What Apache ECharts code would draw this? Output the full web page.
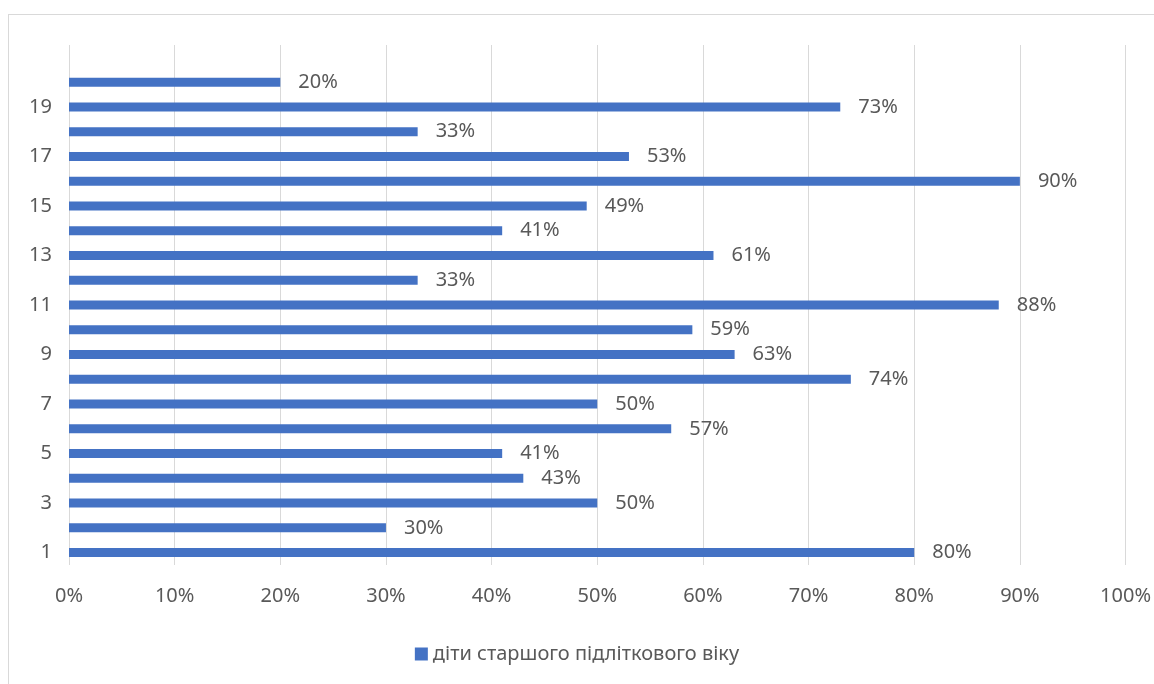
<!DOCTYPE html>
<html>
<head>
<meta charset="utf-8">
<script src="https://cdn.jsdelivr.net/npm/echarts@6/dist/echarts.min.js"></script>
<style>
  html, body { margin: 0; padding: 0; background: #fff; overflow: hidden; }
  #frame { position: absolute; left: 8px; top: 14px; width: 1160px; height: 700px;
           border: 1px solid #d9d9d9; box-sizing: border-box; }
  #chart { position: absolute; left: 0; top: 0; width: 1154px; height: 684px; }
</style>
</head>
<body>
<div id="frame"></div>
<div id="chart"></div>
<script>
// Respondent numbers (the last slot is an empty row at the top of the axis)
const categories = ['1','2','3','4','5','6','7','8','9','10','11','12','13','14','15','16','17','18','19','20',''];
// Share of older teenagers, percent
const values = [80, 30, 50, 43, 41, 57, 50, 74, 63, 59, 88, 33, 61, 41, 49, 90, 53, 33, 73, 20, null];
const seriesName = 'діти старшого підліткового віку';

const textColor = '#595959';
const fontFamily = '"Noto Sans", "Open Sans", sans-serif';

const chart = echarts.init(document.getElementById('chart'), null, { renderer: 'canvas' });
chart.setOption({
  animation: false,
  textStyle: { fontFamily: fontFamily },
  grid: { left: 69, right: 28, top: 45, bottom: 119, containLabel: false },
  legend: {
    data: [seriesName],
    bottom: 15,
    left: 'center',
    icon: 'rect',
    itemWidth: 13,
    itemHeight: 13,
    itemGap: 9,
    textStyle: { color: textColor, fontSize: 20, fontFamily: fontFamily }
  },
  xAxis: {
    type: 'value',
    min: 0,
    max: 100,
    interval: 10,
    axisLine: { show: false },
    axisTick: { show: false },
    splitLine: { show: true, lineStyle: { color: '#d9d9d9', width: 1 } },
    axisLabel: { color: textColor, fontSize: 20, margin: 21, formatter: '{value}%' }
  },
  yAxis: {
    type: 'category',
    data: categories,
    axisLine: { show: false },
    axisTick: { show: false },
    splitLine: { show: false },
    axisLabel: { color: textColor, fontSize: 20, margin: 17, interval: 1 }
  },
  series: [{
    name: seriesName,
    type: 'bar',
    data: values,
    barWidth: 9,
    itemStyle: { color: '#4472C4' },
    label: {
      show: true,
      position: 'right',
      distance: 18,
      color: textColor,
      fontSize: 20,
      formatter: p => p.value == null ? '' : p.value + '%'
    }
  }]
});
</script>
</body>
</html>
